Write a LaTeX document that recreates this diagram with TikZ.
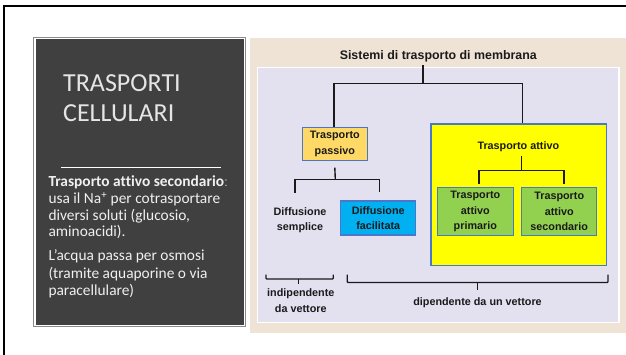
\documentclass[tikz,border=0pt]{standalone}
\usepackage{fontspec}
\newfontfamily\carlito{Carlito}[Ligatures=NoCommon]
\newfontfamily\lib{Liberation Sans}
\definecolor{beige}{HTML}{EFE3D6}
\definecolor{lav}{HTML}{E3E0F0}
\definecolor{darkpanel}{HTML}{404040}
\definecolor{panelgray}{HTML}{8A8A8A}
\definecolor{gold}{HTML}{FFD966}
\definecolor{cyanbox}{HTML}{00B0F0}
\definecolor{greenbox}{HTML}{92D050}
\definecolor{yel}{HTML}{FFFF00}
\definecolor{bblue}{HTML}{4A78C8}
\definecolor{txt}{HTML}{1A1A1A}
\tikzset{
  boxstyle/.style={draw=bblue, line width=1.3pt, inner sep=0pt, align=center,
    font=\lib\bfseries\fontsize{10.8}{15.5}\selectfont, text=txt},
  plainlabel/.style={inner sep=0pt, align=center,
    font=\lib\bfseries\fontsize{10.8}{15.5}\selectfont, text=txt},
  conn/.style={draw=txt, line width=1.4pt},
  bracestyle/.style={draw=txt, line width=1.3pt, rounded corners=0.8pt},
  leftline/.style={anchor=base west, inner sep=0pt, text=white!94!black,
    font=\carlito\fontsize{15.4}{17}\selectfont},
  bigtitle/.style={anchor=base west, inner sep=0pt, text=white!90!black,
    font=\carlito\fontsize{26}{30}\selectfont}
}
\begin{document}
\begin{tikzpicture}[x=1pt,y=-1pt]
\useasboundingbox (0,0) rectangle (626,354);
\fill[white] (0,0) rectangle (626,354);
% outer frame
\draw[line width=2pt, black] (4.3,356) -- (4.3,6) -- (628,6);
% left dark panel
\fill[panelgray] (33,37) rectangle (246.3,327);
\fill[white] (34.3,38.3) rectangle (245,325.7);
\fill[darkpanel] (35.5,39.4) rectangle (243.8,324.5);
\node[bigtitle] (t1) at (63,91.7) {TRASPORTI};
\node[bigtitle] (t2) at (63,121) {CELLULARI};
\draw[white, line width=0.9pt] (61,167) -- (221,167);
\node[leftline] (l1) at (48.3,186.7) {\bfseries Trasporto attivo secondario\normalfont:};
\node[leftline] (l2) at (48.3,203.3) {usa il Na\textsuperscript{+} per cotrasportare};
\node[leftline] (l3) at (48.3,220) {diversi soluti (glucosio,};
\node[leftline] (l4) at (48.3,236.5) {aminoacidi).};
\node[leftline] (l5) at (48.3,260.7) {L’acqua passa per osmosi};
\node[leftline] (l6) at (48.3,278.3) {(tramite aquaporine o via};
\node[leftline] (l7) at (48.3,295) {paracellulare)};
% right panel
\fill[beige] (250,37.7) rectangle (628,332.7);
\fill[white] (256.8,66.8) rectangle (619.5,323.2);
\fill[lav] (258.3,68.3) rectangle (618,321.7);
\node[inner sep=0pt, anchor=base, text=txt, font=\lib\bfseries\fontsize{12.4}{14}\selectfont] (title) at (438.3,59) {Sistemi di trasporto di membrana};
% boxes
\node[boxstyle, fill=yel, minimum width=175.7pt, minimum height=141.7pt] (active) at (518.8,194.8) {};
\node[plainlabel] (ta) at (518.3,146.7) {Trasporto attivo};
\node[boxstyle, fill=gold, minimum width=65pt, minimum height=33pt] (passive) at (334.8,143.7) {Trasporto\\passivo};
\node[boxstyle, fill=cyanbox, minimum width=75pt, minimum height=34pt] (facil) at (378.2,218) {Diffusione\\facilitata};
\node[plainlabel] (sempl) at (300,220) {Diffusione\\semplice};
\node[boxstyle, fill=greenbox, minimum width=76pt, minimum height=48pt] (gL) at (475.3,211.7) {Trasporto\\attivo\\primario};
\node[boxstyle, fill=greenbox, minimum width=75pt, minimum height=48pt] (gR) at (559.2,211.7) {Trasporto\\attivo\\secondario};
\node[plainlabel] (indip) at (300.8,300.8) {indipendente\\da vettore};
\node[plainlabel] (dip) at (477.5,302.7) {dipendente da un vettore};
% connectors: main tree
\coordinate (t0) at (423,65);
\coordinate (j0) at (423,83.3);
\draw[conn] (t0) -- (j0);
\draw[conn] ([xshift=-1pt]passive.north) |- (j0) -| ([xshift=3.9pt]active.north);
% passive subtree
\coordinate (pj) at (335.3,179.3);
\coordinate (dsTop) at (295,192.7);
\draw[conn] ([yshift=-6.7pt]passive.south) -- (pj);
\draw[conn] (dsTop) |- (pj) -| ([xshift=1.1pt,yshift=8.3pt]facil.north);
% active subtree
\coordinate (taBot) at (521.7,156);
\coordinate (aj) at (521.7,170.7);
\draw[conn] (taBot) -- (aj);
\draw[conn] ([xshift=3.7pt,yshift=2.7pt]gL.north) |- (aj) -| ([xshift=4.8pt,yshift=2.7pt]gR.north);
% braces
\draw[bracestyle] (266,274.5) -- (266,279) -- (333.3,279) -- (333.3,274.5);
\draw[bracestyle] (298.3,279) -- (298.3,283.5);
\draw[bracestyle] (347.3,274.5) -- (347.3,282.5) -- (608,282.5) -- (608,274.5);
\draw[bracestyle] (477.3,282.5) -- (477.3,290);
\end{tikzpicture}
\end{document}
